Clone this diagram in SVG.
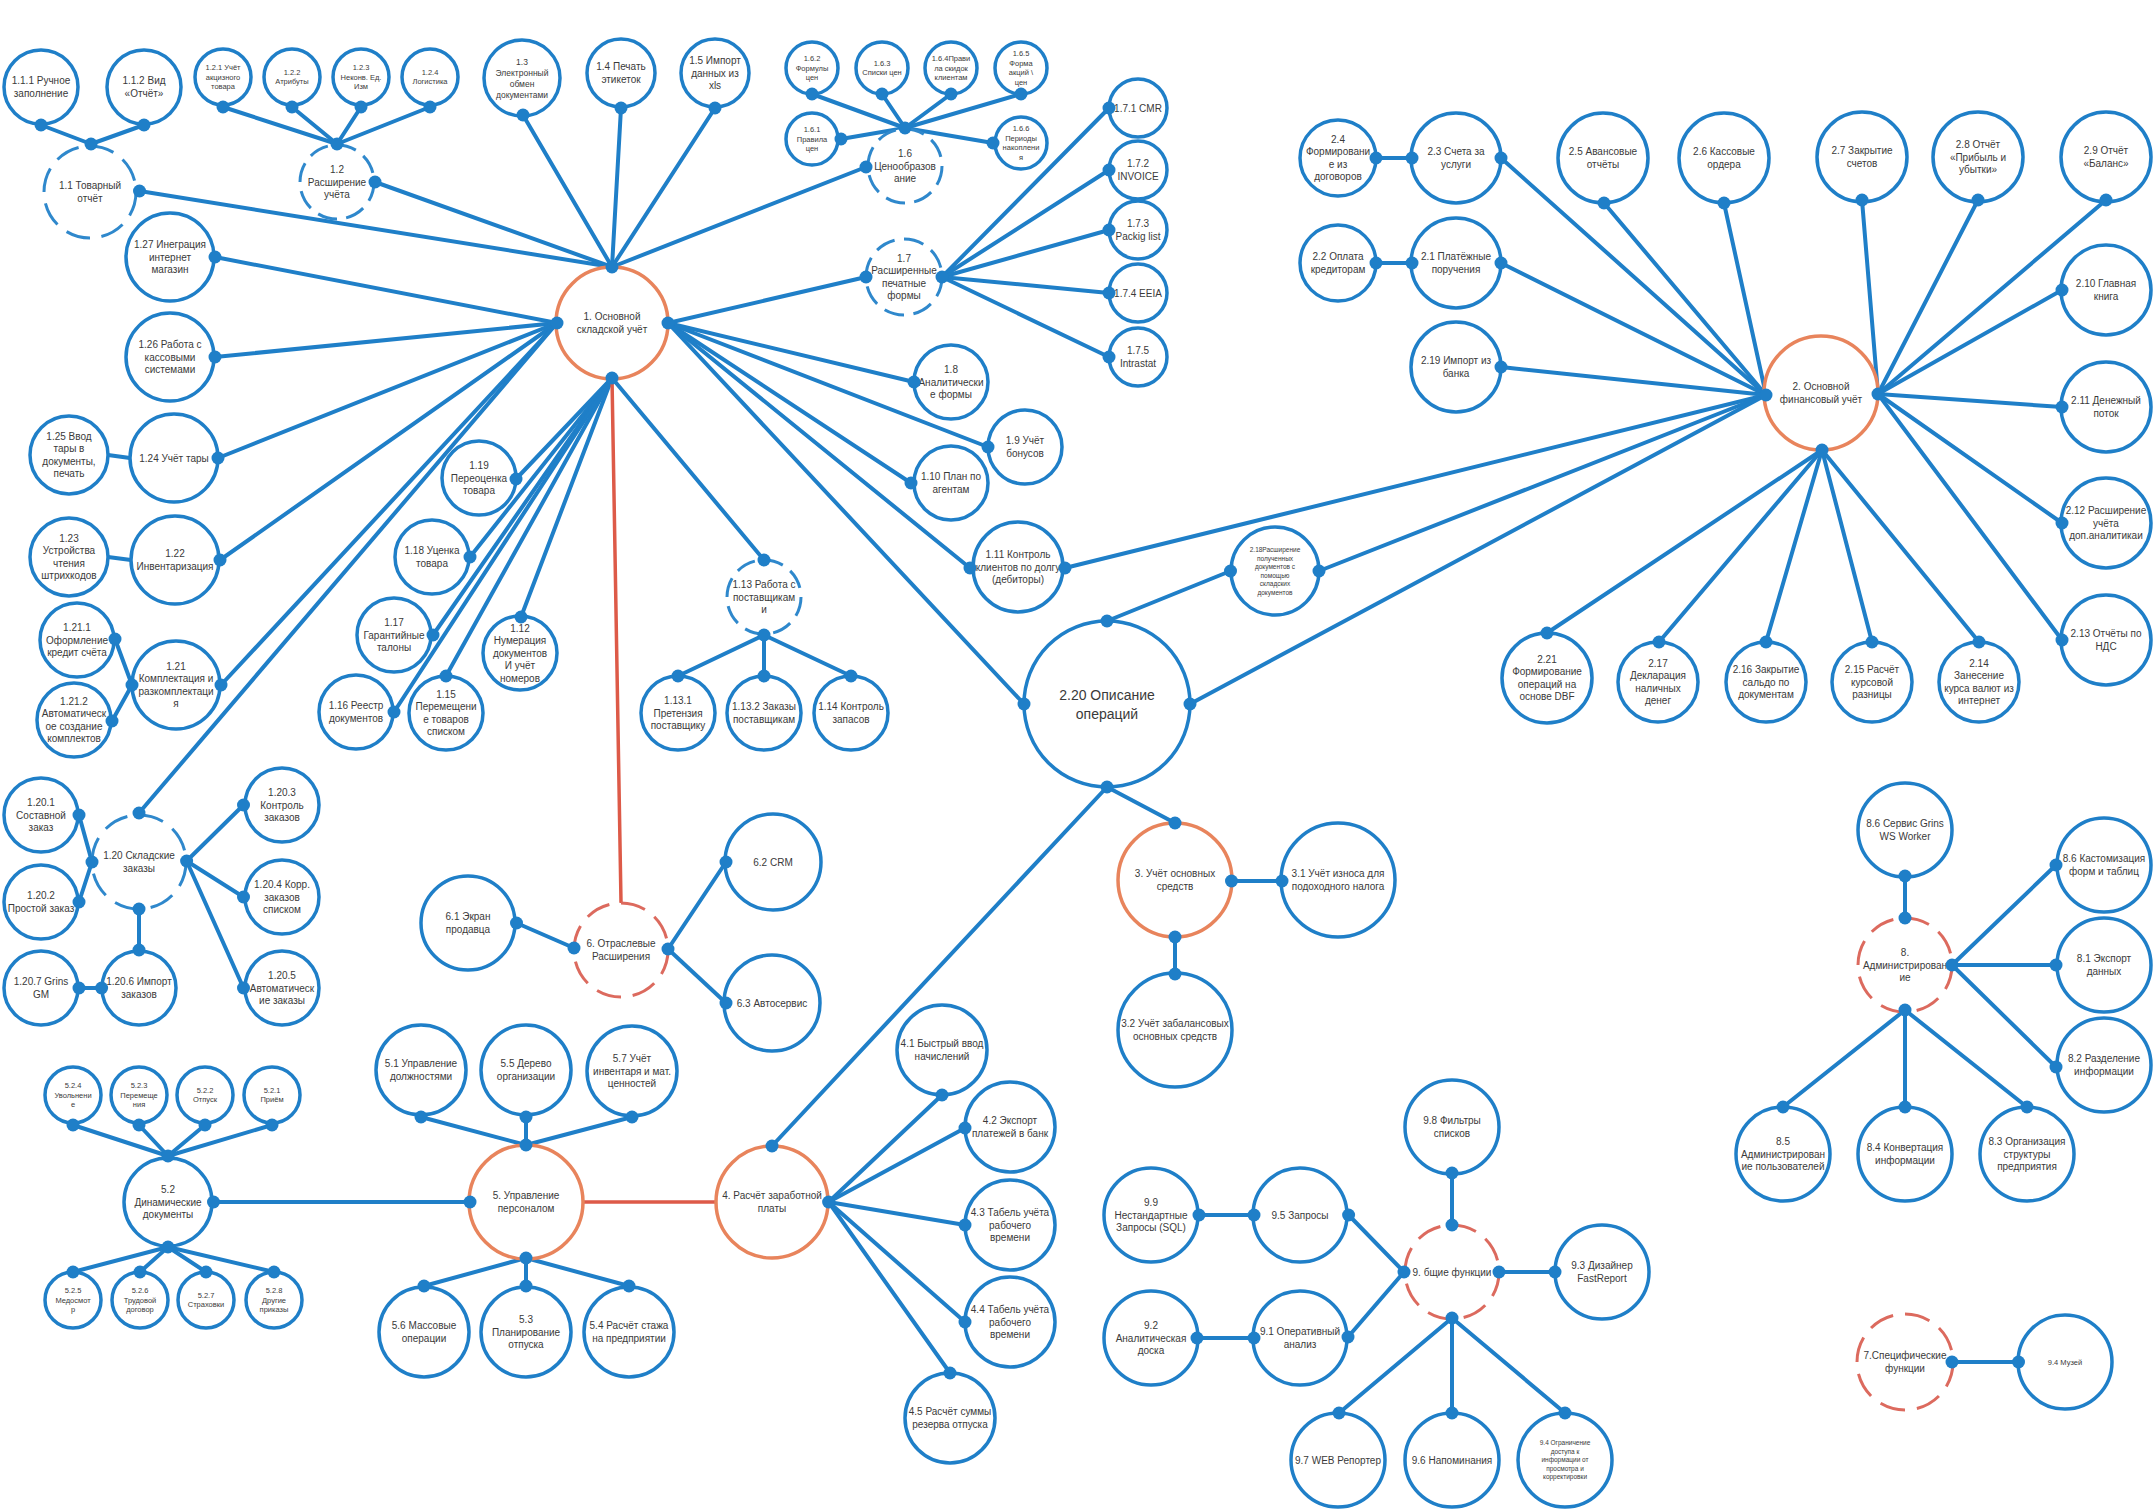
<svg xmlns="http://www.w3.org/2000/svg" width="2154" height="1510" viewBox="0 0 2154 1510">
<style>
.c{fill:#fff;stroke:#1f7fc8;stroke-width:3.5}
.cd{fill:#fff;stroke:#2f88cc;stroke-width:3;stroke-dasharray:8.5 4.0}
.o{fill:#fff;stroke:#e8845c;stroke-width:3.5}
.rd{fill:#fff;stroke:#dc6a5e;stroke-width:3;stroke-dasharray:8.5 4.0}
#connectors line{stroke:#1f7fc8;stroke-width:4;stroke-linecap:round}
#connectors line.r{stroke:#dd5a48;stroke-width:3.5}
#dots circle{fill:#1f7fc8}
text{font-family:"Liberation Sans",Arial,sans-serif;fill:#3a3a3a;text-anchor:middle}
.t{font-size:10px}.s{font-size:7.5px}.m{font-size:8.5px}.xs{font-size:6.5px}.b{font-size:14px}
</style>
<rect width="2154" height="1510" fill="#fff"/>
<g id="connectors">
<line x1="612" y1="267" x2="139.5" y2="191"/><line x1="612" y1="267" x2="375" y2="182"/><line x1="612" y1="267" x2="523" y2="115"/><line x1="612" y1="267" x2="621" y2="108"/><line x1="612" y1="267" x2="715" y2="108"/><line x1="612" y1="267" x2="866" y2="167"/>
<line x1="557" y1="323" x2="215" y2="257"/><line x1="557" y1="323" x2="215" y2="357"/><line x1="557" y1="323" x2="218" y2="458"/><line x1="557" y1="323" x2="220" y2="560"/><line x1="557" y1="323" x2="221" y2="685"/><line x1="557" y1="323" x2="139" y2="813"/>
<line x1="612" y1="378" x2="516" y2="479"/><line x1="612" y1="378" x2="470" y2="557"/><line x1="612" y1="378" x2="433" y2="635"/><line x1="612" y1="378" x2="394" y2="712"/><line x1="612" y1="378" x2="446" y2="676"/><line x1="612" y1="378" x2="521" y2="617"/><line x1="612" y1="378" x2="764" y2="560"/>
<line x1="668" y1="323" x2="866" y2="277"/><line x1="668" y1="323" x2="914" y2="382"/><line x1="668" y1="323" x2="988" y2="447"/><line x1="668" y1="323" x2="911" y2="483"/><line x1="668" y1="323" x2="970" y2="568"/><line x1="668" y1="323" x2="1024" y2="704"/>
<line x1="91" y1="144" x2="41" y2="125"/><line x1="91" y1="144" x2="144" y2="125"/>
<line x1="337" y1="144" x2="223" y2="107"/><line x1="337" y1="144" x2="292" y2="107"/><line x1="337" y1="144" x2="361" y2="107"/><line x1="337" y1="144" x2="430" y2="107"/>
<line x1="905" y1="128" x2="812" y2="94"/><line x1="905" y1="128" x2="882" y2="94"/><line x1="905" y1="128" x2="951" y2="94"/><line x1="905" y1="128" x2="1021" y2="94"/><line x1="905" y1="128" x2="841" y2="139"/><line x1="905" y1="128" x2="993" y2="143"/>
<line x1="942" y1="277" x2="1109" y2="108"/><line x1="942" y1="277" x2="1109" y2="170"/><line x1="942" y1="277" x2="1109" y2="230"/><line x1="942" y1="277" x2="1109" y2="293"/><line x1="942" y1="277" x2="1109" y2="357"/>
<line x1="108" y1="455" x2="130" y2="458"/><line x1="108" y1="557" x2="131" y2="560"/>
<line x1="132" y1="685" x2="115" y2="639"/><line x1="132" y1="685" x2="112" y2="721"/>
<line x1="92" y1="862" x2="79" y2="815"/><line x1="92" y1="862" x2="79" y2="902"/>
<line x1="186.6" y1="861" x2="243.5" y2="805"/><line x1="186.6" y1="861" x2="243.5" y2="897"/><line x1="186.6" y1="861" x2="243.5" y2="988"/>
<line x1="139" y1="909" x2="139" y2="950"/><line x1="101.6" y1="988" x2="79" y2="988"/>
<line x1="764" y1="635" x2="678" y2="676"/><line x1="764" y1="635" x2="764" y2="676"/><line x1="764" y1="635" x2="851" y2="676"/>
<line x1="516.5" y1="923" x2="574" y2="948"/>
<line x1="668" y1="949" x2="726" y2="862"/><line x1="668" y1="949" x2="726" y2="1003"/>
<line class="r" x1="612" y1="378" x2="621" y2="902"/>
<line class="r" x1="583" y1="1202" x2="716" y2="1202"/>
<line x1="1065" y1="568" x2="1766" y2="395"/><line x1="1107" y1="621" x2="1230.5" y2="571"/><line x1="1319" y1="571" x2="1766" y2="395"/><line x1="1190" y1="704" x2="1766" y2="395"/>
<line x1="1766" y1="395" x2="1501" y2="158"/><line x1="1766" y1="395" x2="1501" y2="263"/><line x1="1766" y1="395" x2="1501" y2="367"/><line x1="1766" y1="395" x2="1604" y2="203"/><line x1="1766" y1="395" x2="1724" y2="203"/>
<line x1="1376" y1="158" x2="1412" y2="158"/><line x1="1376" y1="263" x2="1412" y2="263"/>
<line x1="1878" y1="394" x2="1862" y2="200"/><line x1="1878" y1="394" x2="1978" y2="200"/><line x1="1878" y1="394" x2="2106" y2="200"/><line x1="1878" y1="394" x2="2062" y2="290"/><line x1="1878" y1="394" x2="2062" y2="407"/><line x1="1878" y1="394" x2="2062" y2="523"/><line x1="1878" y1="394" x2="2062" y2="640"/>
<line x1="1822" y1="450" x2="1547" y2="633"/><line x1="1822" y1="450" x2="1659" y2="642"/><line x1="1822" y1="450" x2="1766" y2="642"/><line x1="1822" y1="450" x2="1872" y2="642"/><line x1="1822" y1="450" x2="1979" y2="642"/>
<line x1="1107" y1="787" x2="1175" y2="823"/><line x1="1107" y1="787" x2="772" y2="1146"/>
<line x1="1231.5" y1="881" x2="1282" y2="881"/><line x1="1175" y1="937" x2="1175" y2="974"/>
<line x1="470" y1="1202" x2="213.5" y2="1202"/>
<line x1="526" y1="1145" x2="421" y2="1117"/><line x1="526" y1="1145" x2="526" y2="1117"/><line x1="526" y1="1145" x2="632" y2="1117"/>
<line x1="526" y1="1258" x2="424" y2="1286"/><line x1="526" y1="1258" x2="526" y2="1286"/><line x1="526" y1="1258" x2="629" y2="1286"/>
<line x1="168" y1="1156" x2="73" y2="1125"/><line x1="168" y1="1156" x2="139" y2="1125"/><line x1="168" y1="1156" x2="205" y2="1125"/><line x1="168" y1="1156" x2="272" y2="1125"/>
<line x1="168" y1="1247" x2="73" y2="1272"/><line x1="168" y1="1247" x2="140" y2="1272"/><line x1="168" y1="1247" x2="206" y2="1272"/><line x1="168" y1="1247" x2="274" y2="1272"/>
<line x1="828.6" y1="1202" x2="942" y2="1095"/><line x1="828.6" y1="1202" x2="965" y2="1128"/><line x1="828.6" y1="1202" x2="965" y2="1225"/><line x1="828.6" y1="1202" x2="965" y2="1322"/><line x1="828.6" y1="1202" x2="950" y2="1373"/>
<line x1="1452" y1="1225" x2="1452" y2="1173"/>
<line x1="1404" y1="1272" x2="1348.6" y2="1215"/><line x1="1404" y1="1272" x2="1348" y2="1337"/>
<line x1="1254" y1="1215" x2="1199" y2="1215"/><line x1="1254" y1="1338" x2="1197" y2="1338"/>
<line x1="1499" y1="1272" x2="1555" y2="1272"/>
<line x1="1452" y1="1318" x2="1339" y2="1413"/><line x1="1452" y1="1318" x2="1452" y2="1413"/><line x1="1452" y1="1318" x2="1565" y2="1413"/>
<line x1="1905" y1="918" x2="1905" y2="876"/>
<line x1="1952" y1="965" x2="2056" y2="865"/><line x1="1952" y1="965" x2="2056" y2="965"/><line x1="1952" y1="965" x2="2056" y2="1067"/>
<line x1="1905" y1="1010" x2="1783" y2="1107"/><line x1="1905" y1="1010" x2="1905" y2="1107"/><line x1="1905" y1="1010" x2="2027" y2="1107"/>
<line x1="1952" y1="1362" x2="2018.5" y2="1362"/>
</g>
<g id="nodes">
<g id="n1_1_1"><circle class="c" cx="41" cy="87" r="37"/><text class="t" y="84.25"><tspan x="41">1.1.1 Ручное</tspan><tspan x="41" dy="12.5">заполнение</tspan></text></g>
<g id="n1_1_2"><circle class="c" cx="144" cy="87" r="37"/><text class="t" y="84.25"><tspan x="144">1.1.2 Вид</tspan><tspan x="144" dy="12.5">«Отчёт»</tspan></text></g>
<g id="n1_1"><circle class="cd" pathLength="100" cx="90" cy="192" r="46"/><text class="t" y="189.25"><tspan x="90">1.1 Товарный</tspan><tspan x="90" dy="12.5">отчёт</tspan></text></g>
<g id="n1_2_1"><circle class="c" cx="223" cy="77" r="28"/><text class="s" y="70.1"><tspan x="223">1.2.1 Учёт</tspan><tspan x="223" dy="9.5">акцизного</tspan><tspan x="223" dy="9.5">товара</tspan></text></g>
<g id="n1_2_2"><circle class="c" cx="292" cy="77" r="28"/><text class="s" y="74.85"><tspan x="292">1.2.2</tspan><tspan x="292" dy="9.5">Атрибуты</tspan></text></g>
<g id="n1_2_3"><circle class="c" cx="361" cy="77" r="28"/><text class="s" y="70.1"><tspan x="361">1.2.3</tspan><tspan x="361" dy="9.5">Неконв. Ед.</tspan><tspan x="361" dy="9.5">Изм</tspan></text></g>
<g id="n1_2_4"><circle class="c" cx="430" cy="77" r="28"/><text class="s" y="74.85"><tspan x="430">1.2.4</tspan><tspan x="430" dy="9.5">Логистика</tspan></text></g>
<g id="n1_2"><circle class="cd" pathLength="100" cx="337" cy="182" r="37"/><text class="t" y="173"><tspan x="337">1.2</tspan><tspan x="337" dy="12.5">Расширение</tspan><tspan x="337" dy="12.5">учёта</tspan></text></g>
<g id="n1_3"><circle class="c" cx="522" cy="78" r="38"/><text class="m" y="64.5"><tspan x="522">1.3</tspan><tspan x="522" dy="11">Электронный</tspan><tspan x="522" dy="11">обмен</tspan><tspan x="522" dy="11">документами</tspan></text></g>
<g id="n1_4"><circle class="c" cx="621" cy="73" r="34"/><text class="t" y="70.25"><tspan x="621">1.4 Печать</tspan><tspan x="621" dy="12.5">этикеток</tspan></text></g>
<g id="n1_5"><circle class="c" cx="715" cy="73" r="34"/><text class="t" y="64"><tspan x="715">1.5 Импорт</tspan><tspan x="715" dy="12.5">данных из</tspan><tspan x="715" dy="12.5">xls</tspan></text></g>
<g id="n1_6_2"><circle class="c" cx="812" cy="68" r="26"/><text class="s" y="61.1"><tspan x="812">1.6.2</tspan><tspan x="812" dy="9.5">Формулы</tspan><tspan x="812" dy="9.5">цен</tspan></text></g>
<g id="n1_6_3"><circle class="c" cx="882" cy="68" r="26"/><text class="s" y="65.85"><tspan x="882">1.6.3</tspan><tspan x="882" dy="9.5">Списки цен</tspan></text></g>
<g id="n1_6_4"><circle class="c" cx="951" cy="68" r="26"/><text class="s" y="61.1"><tspan x="951">1.6.4Прави</tspan><tspan x="951" dy="9.5">ла скидок</tspan><tspan x="951" dy="9.5">клиентам</tspan></text></g>
<g id="n1_6_5"><circle class="c" cx="1021" cy="68" r="26"/><text class="s" y="56.35"><tspan x="1021">1.6.5</tspan><tspan x="1021" dy="9.5">Форма</tspan><tspan x="1021" dy="9.5">акций \</tspan><tspan x="1021" dy="9.5">цен</tspan></text></g>
<g id="n1_6_1"><circle class="c" cx="812" cy="139" r="26"/><text class="s" y="132.1"><tspan x="812">1.6.1</tspan><tspan x="812" dy="9.5">Правила</tspan><tspan x="812" dy="9.5">цен</tspan></text></g>
<g id="n1_6_6"><circle class="c" cx="1021" cy="143" r="26"/><text class="s" y="131.35"><tspan x="1021">1.6.6</tspan><tspan x="1021" dy="9.5">Периоды</tspan><tspan x="1021" dy="9.5">накоплени</tspan><tspan x="1021" dy="9.5">я</tspan></text></g>
<g id="n1_6"><circle class="cd" pathLength="100" cx="905" cy="166" r="37"/><text class="t" y="157"><tspan x="905">1.6</tspan><tspan x="905" dy="12.5">Ценообразов</tspan><tspan x="905" dy="12.5">ание</tspan></text></g>
<g id="n1"><circle class="o" cx="612" cy="323" r="56"/><text class="t" y="320.25"><tspan x="612">1. Основной</tspan><tspan x="612" dy="12.5">складской учёт</tspan></text></g>
<g id="n1_7"><circle class="cd" pathLength="100" cx="904" cy="277" r="38"/><text class="t" y="261.75"><tspan x="904">1.7</tspan><tspan x="904" dy="12.5">Расширенные</tspan><tspan x="904" dy="12.5">печатные</tspan><tspan x="904" dy="12.5">формы</tspan></text></g>
<g id="n1_7_1"><circle class="c" cx="1138" cy="108" r="29"/><text class="t" y="111.5"><tspan x="1138">1.7.1 CMR</tspan></text></g>
<g id="n1_7_2"><circle class="c" cx="1138" cy="170" r="29"/><text class="t" y="167.25"><tspan x="1138">1.7.2</tspan><tspan x="1138" dy="12.5">INVOICE</tspan></text></g>
<g id="n1_7_3"><circle class="c" cx="1138" cy="230" r="29"/><text class="t" y="227.25"><tspan x="1138">1.7.3</tspan><tspan x="1138" dy="12.5">Packig list</tspan></text></g>
<g id="n1_7_4"><circle class="c" cx="1138" cy="293" r="29"/><text class="t" y="296.5"><tspan x="1138">1.7.4 EEIA</tspan></text></g>
<g id="n1_7_5"><circle class="c" cx="1138" cy="357" r="29"/><text class="t" y="354.25"><tspan x="1138">1.7.5</tspan><tspan x="1138" dy="12.5">Intrastat</tspan></text></g>
<g id="n1_8"><circle class="c" cx="951" cy="382" r="37"/><text class="t" y="373"><tspan x="951">1.8</tspan><tspan x="951" dy="12.5">Аналитически</tspan><tspan x="951" dy="12.5">е формы</tspan></text></g>
<g id="n1_9"><circle class="c" cx="1025" cy="447" r="37"/><text class="t" y="444.25"><tspan x="1025">1.9 Учёт</tspan><tspan x="1025" dy="12.5">бонусов</tspan></text></g>
<g id="n1_10"><circle class="c" cx="951" cy="483" r="37"/><text class="t" y="480.25"><tspan x="951">1.10 План по</tspan><tspan x="951" dy="12.5">агентам</tspan></text></g>
<g id="n1_11"><circle class="c" cx="1018" cy="567" r="45"/><text class="t" y="558"><tspan x="1018">1.11 Контроль</tspan><tspan x="1018" dy="12.5">клиентов по долгу</tspan><tspan x="1018" dy="12.5">(дебиторы)</tspan></text></g>
<g id="n1_27"><circle class="c" cx="170" cy="257" r="44"/><text class="t" y="248"><tspan x="170">1.27 Инеграция</tspan><tspan x="170" dy="12.5">интернет</tspan><tspan x="170" dy="12.5">магазин</tspan></text></g>
<g id="n1_26"><circle class="c" cx="170" cy="357" r="44"/><text class="t" y="348"><tspan x="170">1.26 Работа с</tspan><tspan x="170" dy="12.5">кассовыми</tspan><tspan x="170" dy="12.5">системами</tspan></text></g>
<g id="n1_25"><circle class="c" cx="69" cy="455" r="39"/><text class="t" y="439.75"><tspan x="69">1.25 Ввод</tspan><tspan x="69" dy="12.5">тары в</tspan><tspan x="69" dy="12.5">документы,</tspan><tspan x="69" dy="12.5">печать</tspan></text></g>
<g id="n1_24"><circle class="c" cx="174" cy="458" r="44"/><text class="t" y="461.5"><tspan x="174">1.24 Учёт тары</tspan></text></g>
<g id="n1_23"><circle class="c" cx="69" cy="557" r="39"/><text class="t" y="541.75"><tspan x="69">1.23</tspan><tspan x="69" dy="12.5">Устройства</tspan><tspan x="69" dy="12.5">чтения</tspan><tspan x="69" dy="12.5">штрихкодов</tspan></text></g>
<g id="n1_22"><circle class="c" cx="175" cy="560" r="44"/><text class="t" y="557.25"><tspan x="175">1.22</tspan><tspan x="175" dy="12.5">Инвентаризация</tspan></text></g>
<g id="n1_21_1"><circle class="c" cx="77" cy="640" r="37"/><text class="t" y="631"><tspan x="77">1.21.1</tspan><tspan x="77" dy="12.5">Оформление</tspan><tspan x="77" dy="12.5">кредит счёта</tspan></text></g>
<g id="n1_21"><circle class="c" cx="176" cy="685" r="44"/><text class="t" y="669.75"><tspan x="176">1.21</tspan><tspan x="176" dy="12.5">Комплектация и</tspan><tspan x="176" dy="12.5">разкомплектаци</tspan><tspan x="176" dy="12.5">я</tspan></text></g>
<g id="n1_21_2"><circle class="c" cx="74" cy="720" r="37"/><text class="t" y="704.75"><tspan x="74">1.21.2</tspan><tspan x="74" dy="12.5">Автоматическ</tspan><tspan x="74" dy="12.5">ое создание</tspan><tspan x="74" dy="12.5">комплектов</tspan></text></g>
<g id="n1_19"><circle class="c" cx="479" cy="478" r="37"/><text class="t" y="469"><tspan x="479">1.19</tspan><tspan x="479" dy="12.5">Переоценка</tspan><tspan x="479" dy="12.5">товара</tspan></text></g>
<g id="n1_18"><circle class="c" cx="432" cy="557" r="37"/><text class="t" y="554.25"><tspan x="432">1.18 Уценка</tspan><tspan x="432" dy="12.5">товара</tspan></text></g>
<g id="n1_17"><circle class="c" cx="394" cy="635" r="37"/><text class="t" y="626"><tspan x="394">1.17</tspan><tspan x="394" dy="12.5">Гарантийные</tspan><tspan x="394" dy="12.5">талоны</tspan></text></g>
<g id="n1_16"><circle class="c" cx="356" cy="712" r="37"/><text class="t" y="709.25"><tspan x="356">1.16 Реестр</tspan><tspan x="356" dy="12.5">документов</tspan></text></g>
<g id="n1_15"><circle class="c" cx="446" cy="713" r="37"/><text class="t" y="697.75"><tspan x="446">1.15</tspan><tspan x="446" dy="12.5">Перемещени</tspan><tspan x="446" dy="12.5">е товаров</tspan><tspan x="446" dy="12.5">списком</tspan></text></g>
<g id="n1_12"><circle class="c" cx="520" cy="653" r="37"/><text class="t" y="631.5"><tspan x="520">1.12</tspan><tspan x="520" dy="12.5">Нумерация</tspan><tspan x="520" dy="12.5">документов</tspan><tspan x="520" dy="12.5">И учёт</tspan><tspan x="520" dy="12.5">номеров</tspan></text></g>
<g id="n1_13"><circle class="cd" pathLength="100" cx="764" cy="597" r="37"/><text class="t" y="588"><tspan x="764">1.13 Работа с</tspan><tspan x="764" dy="12.5">поставщикам</tspan><tspan x="764" dy="12.5">и</tspan></text></g>
<g id="n1_13_1"><circle class="c" cx="678" cy="713" r="37"/><text class="t" y="704"><tspan x="678">1.13.1</tspan><tspan x="678" dy="12.5">Претензия</tspan><tspan x="678" dy="12.5">поставщику</tspan></text></g>
<g id="n1_13_2"><circle class="c" cx="764" cy="713" r="37"/><text class="t" y="710.25"><tspan x="764">1.13.2 Заказы</tspan><tspan x="764" dy="12.5">поставщикам</tspan></text></g>
<g id="n1_14"><circle class="c" cx="851" cy="713" r="37"/><text class="t" y="710.25"><tspan x="851">1.14 Контроль</tspan><tspan x="851" dy="12.5">запасов</tspan></text></g>
<g id="n1_20"><circle class="cd" pathLength="100" cx="139" cy="862" r="47"/><text class="t" y="859.25"><tspan x="139">1.20 Складские</tspan><tspan x="139" dy="12.5">заказы</tspan></text></g>
<g id="n1_20_1"><circle class="c" cx="41" cy="815" r="37"/><text class="t" y="806"><tspan x="41">1.20.1</tspan><tspan x="41" dy="12.5">Составной</tspan><tspan x="41" dy="12.5">заказ</tspan></text></g>
<g id="n1_20_2"><circle class="c" cx="41" cy="902" r="37"/><text class="t" y="899.25"><tspan x="41">1.20.2</tspan><tspan x="41" dy="12.5">Простой заказ</tspan></text></g>
<g id="n1_20_3"><circle class="c" cx="282" cy="805" r="37"/><text class="t" y="796"><tspan x="282">1.20.3</tspan><tspan x="282" dy="12.5">Контроль</tspan><tspan x="282" dy="12.5">заказов</tspan></text></g>
<g id="n1_20_4"><circle class="c" cx="282" cy="897" r="37"/><text class="t" y="888"><tspan x="282">1.20.4 Корр.</tspan><tspan x="282" dy="12.5">заказов</tspan><tspan x="282" dy="12.5">списком</tspan></text></g>
<g id="n1_20_5"><circle class="c" cx="282" cy="988" r="37"/><text class="t" y="979"><tspan x="282">1.20.5</tspan><tspan x="282" dy="12.5">Автоматическ</tspan><tspan x="282" dy="12.5">ие заказы</tspan></text></g>
<g id="n1_20_6"><circle class="c" cx="139" cy="988" r="37"/><text class="t" y="985.25"><tspan x="139">1.20.6 Импорт</tspan><tspan x="139" dy="12.5">заказов</tspan></text></g>
<g id="n1_20_7"><circle class="c" cx="41" cy="988" r="37"/><text class="t" y="985.25"><tspan x="41">1.20.7 Grins</tspan><tspan x="41" dy="12.5">GM</tspan></text></g>
<g id="n6_1"><circle class="c" cx="468" cy="923" r="47"/><text class="t" y="920.25"><tspan x="468">6.1 Экран</tspan><tspan x="468" dy="12.5">продавца</tspan></text></g>
<g id="n6"><circle class="rd" pathLength="100" cx="621" cy="950" r="47"/><text class="t" y="947.25"><tspan x="621">6. Отраслевые</tspan><tspan x="621" dy="12.5">Расширения</tspan></text></g>
<g id="n6_2"><circle class="c" cx="773" cy="862" r="48"/><text class="t" y="865.5"><tspan x="773">6.2 CRM</tspan></text></g>
<g id="n6_3"><circle class="c" cx="772" cy="1003" r="48"/><text class="t" y="1006.5"><tspan x="772">6.3 Автосервис</tspan></text></g>
<g id="n2_4"><circle class="c" cx="1338" cy="158" r="38"/><text class="t" y="142.75"><tspan x="1338">2.4</tspan><tspan x="1338" dy="12.5">Формировани</tspan><tspan x="1338" dy="12.5">е из</tspan><tspan x="1338" dy="12.5">договоров</tspan></text></g>
<g id="n2_3"><circle class="c" cx="1456" cy="158" r="45"/><text class="t" y="155.25"><tspan x="1456">2.3 Счета за</tspan><tspan x="1456" dy="12.5">услуги</tspan></text></g>
<g id="n2_2"><circle class="c" cx="1338" cy="263" r="38"/><text class="t" y="260.25"><tspan x="1338">2.2 Оплата</tspan><tspan x="1338" dy="12.5">кредиторам</tspan></text></g>
<g id="n2_1"><circle class="c" cx="1456" cy="263" r="45"/><text class="t" y="260.25"><tspan x="1456">2.1 Платёжные</tspan><tspan x="1456" dy="12.5">поручения</tspan></text></g>
<g id="n2_19"><circle class="c" cx="1456" cy="367" r="45"/><text class="t" y="364.25"><tspan x="1456">2.19 Импорт из</tspan><tspan x="1456" dy="12.5">банка</tspan></text></g>
<g id="n2_5"><circle class="c" cx="1603" cy="158" r="45"/><text class="t" y="155.25"><tspan x="1603">2.5 Авансовые</tspan><tspan x="1603" dy="12.5">отчёты</tspan></text></g>
<g id="n2_6"><circle class="c" cx="1724" cy="158" r="45"/><text class="t" y="155.25"><tspan x="1724">2.6 Кассовые</tspan><tspan x="1724" dy="12.5">ордера</tspan></text></g>
<g id="n2_7"><circle class="c" cx="1862" cy="157" r="45"/><text class="t" y="154.25"><tspan x="1862">2.7 Закрытие</tspan><tspan x="1862" dy="12.5">счетов</tspan></text></g>
<g id="n2_8"><circle class="c" cx="1978" cy="157" r="45"/><text class="t" y="148"><tspan x="1978">2.8 Отчёт</tspan><tspan x="1978" dy="12.5">«Прибыль и</tspan><tspan x="1978" dy="12.5">убытки»</tspan></text></g>
<g id="n2_9"><circle class="c" cx="2106" cy="157" r="45"/><text class="t" y="154.25"><tspan x="2106">2.9 Отчёт</tspan><tspan x="2106" dy="12.5">«Баланс»</tspan></text></g>
<g id="n2_10"><circle class="c" cx="2106" cy="290" r="45"/><text class="t" y="287.25"><tspan x="2106">2.10 Главная</tspan><tspan x="2106" dy="12.5">книга</tspan></text></g>
<g id="n2_11"><circle class="c" cx="2106" cy="407" r="45"/><text class="t" y="404.25"><tspan x="2106">2.11 Денежный</tspan><tspan x="2106" dy="12.5">поток</tspan></text></g>
<g id="n2"><circle class="o" cx="1821" cy="393" r="57"/><text class="t" y="390.25"><tspan x="1821">2. Основной</tspan><tspan x="1821" dy="12.5">финансовый учёт</tspan></text></g>
<g id="n2_12"><circle class="c" cx="2106" cy="523" r="45"/><text class="t" y="514"><tspan x="2106">2.12 Расширение</tspan><tspan x="2106" dy="12.5">учёта</tspan><tspan x="2106" dy="12.5">доп.аналитикаи</tspan></text></g>
<g id="n2_13"><circle class="c" cx="2106" cy="640" r="45"/><text class="t" y="637.25"><tspan x="2106">2.13 Отчёты по</tspan><tspan x="2106" dy="12.5">НДС</tspan></text></g>
<g id="n2_14"><circle class="c" cx="1979" cy="682" r="40"/><text class="t" y="666.75"><tspan x="1979">2.14</tspan><tspan x="1979" dy="12.5">Занесение</tspan><tspan x="1979" dy="12.5">курса валют из</tspan><tspan x="1979" dy="12.5">интернет</tspan></text></g>
<g id="n2_15"><circle class="c" cx="1872" cy="682" r="40"/><text class="t" y="673"><tspan x="1872">2.15 Расчёт</tspan><tspan x="1872" dy="12.5">курсовой</tspan><tspan x="1872" dy="12.5">разницы</tspan></text></g>
<g id="n2_16"><circle class="c" cx="1766" cy="682" r="40"/><text class="t" y="673"><tspan x="1766">2.16 Закрытие</tspan><tspan x="1766" dy="12.5">сальдо по</tspan><tspan x="1766" dy="12.5">документам</tspan></text></g>
<g id="n2_17"><circle class="c" cx="1658" cy="682" r="40"/><text class="t" y="666.75"><tspan x="1658">2.17</tspan><tspan x="1658" dy="12.5">Декларация</tspan><tspan x="1658" dy="12.5">наличных</tspan><tspan x="1658" dy="12.5">денег</tspan></text></g>
<g id="n2_21"><circle class="c" cx="1547" cy="678" r="45"/><text class="t" y="662.75"><tspan x="1547">2.21</tspan><tspan x="1547" dy="12.5">Формирование</tspan><tspan x="1547" dy="12.5">операций на</tspan><tspan x="1547" dy="12.5">основе DBF</tspan></text></g>
<g id="n2_18"><circle class="c" cx="1275" cy="571" r="44"/><text class="xs" y="552.05"><tspan x="1275">2.18Расширение</tspan><tspan x="1275" dy="8.5">полученных</tspan><tspan x="1275" dy="8.5">документов с</tspan><tspan x="1275" dy="8.5">помощью</tspan><tspan x="1275" dy="8.5">складских</tspan><tspan x="1275" dy="8.5">документов</tspan></text></g>
<g id="n2_20"><circle class="c" cx="1107" cy="704" r="83"/><text class="b" y="699.5"><tspan x="1107">2.20 Описание</tspan><tspan x="1107" dy="19">операций</tspan></text></g>
<g id="n3"><circle class="o" cx="1175" cy="880" r="57"/><text class="t" y="877.25"><tspan x="1175">3. Учёт основных</tspan><tspan x="1175" dy="12.5">средств</tspan></text></g>
<g id="n3_1"><circle class="c" cx="1338" cy="880" r="57"/><text class="t" y="877.25"><tspan x="1338">3.1 Учёт износа для</tspan><tspan x="1338" dy="12.5">подоходного налога</tspan></text></g>
<g id="n3_2"><circle class="c" cx="1175" cy="1030" r="57"/><text class="t" y="1027.25"><tspan x="1175">3.2 Учёт забалансовых</tspan><tspan x="1175" dy="12.5">основных средств</tspan></text></g>
<g id="n8_6a"><circle class="c" cx="1905" cy="830" r="47"/><text class="t" y="827.25"><tspan x="1905">8.6 Сервис Grins</tspan><tspan x="1905" dy="12.5">WS Worker</tspan></text></g>
<g id="n8"><circle class="rd" pathLength="100" cx="1905" cy="965" r="47"/><text class="t" y="956"><tspan x="1905">8.</tspan><tspan x="1905" dy="12.5">Администрирован</tspan><tspan x="1905" dy="12.5">ие</tspan></text></g>
<g id="n8_6b"><circle class="c" cx="2104" cy="865" r="47"/><text class="t" y="862.25"><tspan x="2104">8.6 Кастомизация</tspan><tspan x="2104" dy="12.5">форм и таблиц</tspan></text></g>
<g id="n8_1"><circle class="c" cx="2104" cy="965" r="47"/><text class="t" y="962.25"><tspan x="2104">8.1 Экспорт</tspan><tspan x="2104" dy="12.5">данных</tspan></text></g>
<g id="n8_2"><circle class="c" cx="2104" cy="1065" r="47"/><text class="t" y="1062.25"><tspan x="2104">8.2 Разделение</tspan><tspan x="2104" dy="12.5">информации</tspan></text></g>
<g id="n8_5"><circle class="c" cx="1783" cy="1154" r="47"/><text class="t" y="1145"><tspan x="1783">8.5</tspan><tspan x="1783" dy="12.5">Администрирован</tspan><tspan x="1783" dy="12.5">ие пользователей</tspan></text></g>
<g id="n8_4"><circle class="c" cx="1905" cy="1154" r="47"/><text class="t" y="1151.25"><tspan x="1905">8.4 Конвертация</tspan><tspan x="1905" dy="12.5">информации</tspan></text></g>
<g id="n8_3"><circle class="c" cx="2027" cy="1154" r="47"/><text class="t" y="1145"><tspan x="2027">8.3 Организация</tspan><tspan x="2027" dy="12.5">структуры</tspan><tspan x="2027" dy="12.5">предприятия</tspan></text></g>
<g id="n7"><circle class="rd" pathLength="100" cx="1905" cy="1362" r="48"/><text class="t" y="1359.25"><tspan x="1905">7.Специфические</tspan><tspan x="1905" dy="12.5">функции</tspan></text></g>
<g id="n9_4m"><circle class="c" cx="2065" cy="1362" r="47"/><text class="s" y="1364.6"><tspan x="2065">9.4 Музей</tspan></text></g>
<g id="n5_2_4"><circle class="c" cx="73" cy="1095" r="28"/><text class="s" y="1088.1"><tspan x="73">5.2.4</tspan><tspan x="73" dy="9.5">Увольнени</tspan><tspan x="73" dy="9.5">е</tspan></text></g>
<g id="n5_2_3"><circle class="c" cx="139" cy="1095" r="28"/><text class="s" y="1088.1"><tspan x="139">5.2.3</tspan><tspan x="139" dy="9.5">Перемеще</tspan><tspan x="139" dy="9.5">ния</tspan></text></g>
<g id="n5_2_2"><circle class="c" cx="205" cy="1095" r="28"/><text class="s" y="1092.85"><tspan x="205">5.2.2</tspan><tspan x="205" dy="9.5">Отпуск</tspan></text></g>
<g id="n5_2_1"><circle class="c" cx="272" cy="1095" r="28"/><text class="s" y="1092.85"><tspan x="272">5.2.1</tspan><tspan x="272" dy="9.5">Приём</tspan></text></g>
<g id="n5_2"><circle class="c" cx="168" cy="1202" r="44"/><text class="t" y="1193"><tspan x="168">5.2</tspan><tspan x="168" dy="12.5">Динамические</tspan><tspan x="168" dy="12.5">документы</tspan></text></g>
<g id="n5_2_5"><circle class="c" cx="73" cy="1300" r="28"/><text class="s" y="1293.1"><tspan x="73">5.2.5</tspan><tspan x="73" dy="9.5">Медосмот</tspan><tspan x="73" dy="9.5">р</tspan></text></g>
<g id="n5_2_6"><circle class="c" cx="140" cy="1300" r="28"/><text class="s" y="1293.1"><tspan x="140">5.2.6</tspan><tspan x="140" dy="9.5">Трудовой</tspan><tspan x="140" dy="9.5">договор</tspan></text></g>
<g id="n5_2_7"><circle class="c" cx="206" cy="1300" r="28"/><text class="s" y="1297.85"><tspan x="206">5.2.7</tspan><tspan x="206" dy="9.5">Страховки</tspan></text></g>
<g id="n5_2_8"><circle class="c" cx="274" cy="1300" r="28"/><text class="s" y="1293.1"><tspan x="274">5.2.8</tspan><tspan x="274" dy="9.5">Другие</tspan><tspan x="274" dy="9.5">приказы</tspan></text></g>
<g id="n5_1"><circle class="c" cx="421" cy="1070" r="45"/><text class="t" y="1067.25"><tspan x="421">5.1 Управление</tspan><tspan x="421" dy="12.5">должностями</tspan></text></g>
<g id="n5_5"><circle class="c" cx="526" cy="1070" r="45"/><text class="t" y="1067.25"><tspan x="526">5.5 Дерево</tspan><tspan x="526" dy="12.5">организации</tspan></text></g>
<g id="n5_7"><circle class="c" cx="632" cy="1071" r="45"/><text class="t" y="1062"><tspan x="632">5.7 Учёт</tspan><tspan x="632" dy="12.5">инвентаря и мат.</tspan><tspan x="632" dy="12.5">ценностей</tspan></text></g>
<g id="n5"><circle class="o" cx="526" cy="1202" r="57"/><text class="t" y="1199.25"><tspan x="526">5. Управление</tspan><tspan x="526" dy="12.5">персоналом</tspan></text></g>
<g id="n5_6"><circle class="c" cx="424" cy="1332" r="45"/><text class="t" y="1329.25"><tspan x="424">5.6 Массовые</tspan><tspan x="424" dy="12.5">операции</tspan></text></g>
<g id="n5_3"><circle class="c" cx="526" cy="1332" r="45"/><text class="t" y="1323"><tspan x="526">5.3</tspan><tspan x="526" dy="12.5">Планирование</tspan><tspan x="526" dy="12.5">отпуска</tspan></text></g>
<g id="n5_4"><circle class="c" cx="629" cy="1332" r="45"/><text class="t" y="1329.25"><tspan x="629">5.4 Расчёт стажа</tspan><tspan x="629" dy="12.5">на предприятии</tspan></text></g>
<g id="n4"><circle class="o" cx="772" cy="1202" r="56"/><text class="t" y="1199.25"><tspan x="772">4. Расчёт заработной</tspan><tspan x="772" dy="12.5">платы</tspan></text></g>
<g id="n4_1"><circle class="c" cx="942" cy="1050" r="45"/><text class="t" y="1047.25"><tspan x="942">4.1 Быстрый ввод</tspan><tspan x="942" dy="12.5">начислений</tspan></text></g>
<g id="n4_2"><circle class="c" cx="1010" cy="1127" r="45"/><text class="t" y="1124.25"><tspan x="1010">4.2 Экспорт</tspan><tspan x="1010" dy="12.5">платежей в банк</tspan></text></g>
<g id="n4_3"><circle class="c" cx="1010" cy="1225" r="45"/><text class="t" y="1216"><tspan x="1010">4.3 Табель учёта</tspan><tspan x="1010" dy="12.5">рабочего</tspan><tspan x="1010" dy="12.5">времени</tspan></text></g>
<g id="n4_4"><circle class="c" cx="1010" cy="1322" r="45"/><text class="t" y="1313"><tspan x="1010">4.4 Табель учёта</tspan><tspan x="1010" dy="12.5">рабочего</tspan><tspan x="1010" dy="12.5">времени</tspan></text></g>
<g id="n4_5"><circle class="c" cx="950" cy="1418" r="45"/><text class="t" y="1415.25"><tspan x="950">4.5 Расчёт суммы</tspan><tspan x="950" dy="12.5">резерва отпуска</tspan></text></g>
<g id="n9_8"><circle class="c" cx="1452" cy="1127" r="47"/><text class="t" y="1124.25"><tspan x="1452">9.8 Фильтры</tspan><tspan x="1452" dy="12.5">списков</tspan></text></g>
<g id="n9"><circle class="rd" pathLength="100" cx="1452" cy="1272" r="47"/><text class="t" y="1275.5"><tspan x="1452">9. бщие функции</tspan></text></g>
<g id="n9_5"><circle class="c" cx="1300" cy="1215" r="47"/><text class="t" y="1218.5"><tspan x="1300">9.5 Запросы</tspan></text></g>
<g id="n9_9"><circle class="c" cx="1151" cy="1215" r="47"/><text class="t" y="1206"><tspan x="1151">9.9</tspan><tspan x="1151" dy="12.5">Нестандартные</tspan><tspan x="1151" dy="12.5">Запросы (SQL)</tspan></text></g>
<g id="n9_1"><circle class="c" cx="1300" cy="1338" r="47"/><text class="t" y="1335.25"><tspan x="1300">9.1 Оперативный</tspan><tspan x="1300" dy="12.5">анализ</tspan></text></g>
<g id="n9_2"><circle class="c" cx="1151" cy="1338" r="47"/><text class="t" y="1329"><tspan x="1151">9.2</tspan><tspan x="1151" dy="12.5">Аналитическая</tspan><tspan x="1151" dy="12.5">доска</tspan></text></g>
<g id="n9_3"><circle class="c" cx="1602" cy="1272" r="47"/><text class="t" y="1269.25"><tspan x="1602">9.3 Дизайнер</tspan><tspan x="1602" dy="12.5">FastReport</tspan></text></g>
<g id="n9_7"><circle class="c" cx="1338" cy="1460" r="47"/><text class="t" y="1463.5"><tspan x="1338">9.7 WEB Репортер</tspan></text></g>
<g id="n9_6"><circle class="c" cx="1452" cy="1460" r="47"/><text class="t" y="1463.5"><tspan x="1452">9.6 Напоминания</tspan></text></g>
<g id="n9_4"><circle class="c" cx="1565" cy="1460" r="47"/><text class="xs" y="1445.3"><tspan x="1565">9.4 Ограничение</tspan><tspan x="1565" dy="8.5">доступа к</tspan><tspan x="1565" dy="8.5">информации от</tspan><tspan x="1565" dy="8.5">просмотра и</tspan><tspan x="1565" dy="8.5">корректировки</tspan></text></g>
</g>
<g id="dots">
<circle cx="41" cy="125" r="6.5"/><circle cx="144" cy="125" r="6.5"/><circle cx="91" cy="144" r="6.5"/><circle cx="139.5" cy="191" r="6.5"/>
<circle cx="223" cy="107" r="6.5"/><circle cx="292" cy="107" r="6.5"/><circle cx="361" cy="107" r="6.5"/><circle cx="430" cy="107" r="6.5"/><circle cx="337" cy="144" r="6.5"/><circle cx="375" cy="182" r="6.5"/>
<circle cx="523" cy="115" r="6.5"/><circle cx="621" cy="108" r="6.5"/><circle cx="715" cy="108" r="6.5"/>
<circle cx="812" cy="94" r="6.5"/><circle cx="882" cy="94" r="6.5"/><circle cx="951" cy="94" r="6.5"/><circle cx="1021" cy="94" r="6.5"/><circle cx="841" cy="139" r="6.5"/><circle cx="993" cy="143" r="6.5"/><circle cx="905" cy="128" r="6.5"/><circle cx="866" cy="167" r="6.5"/>
<circle cx="612" cy="267" r="6.5"/><circle cx="557" cy="323" r="6.5"/><circle cx="668" cy="323" r="6.5"/><circle cx="612" cy="378" r="6.5"/>
<circle cx="866" cy="277" r="6.5"/><circle cx="942" cy="277" r="6.5"/><circle cx="1109" cy="108" r="6.5"/><circle cx="1109" cy="170" r="6.5"/><circle cx="1109" cy="230" r="6.5"/><circle cx="1109" cy="293" r="6.5"/><circle cx="1109" cy="357" r="6.5"/>
<circle cx="914" cy="382" r="6.5"/><circle cx="988" cy="447" r="6.5"/><circle cx="911" cy="483" r="6.5"/><circle cx="970" cy="568" r="6.5"/><circle cx="1065" cy="568" r="6.5"/>
<circle cx="215" cy="257" r="6.5"/><circle cx="215" cy="357" r="6.5"/><circle cx="218" cy="458" r="6.5"/><circle cx="220" cy="560" r="6.5"/><circle cx="221" cy="685" r="6.5"/><circle cx="132" cy="685" r="6.5"/><circle cx="115" cy="639" r="6.5"/><circle cx="112" cy="721" r="6.5"/>
<circle cx="516" cy="479" r="6.5"/><circle cx="470" cy="557" r="6.5"/><circle cx="433" cy="635" r="6.5"/><circle cx="394" cy="712" r="6.5"/><circle cx="446" cy="676" r="6.5"/><circle cx="521" cy="617" r="6.5"/>
<circle cx="764" cy="560" r="6.5"/><circle cx="764" cy="635" r="6.5"/><circle cx="678" cy="676" r="6.5"/><circle cx="764" cy="676" r="6.5"/><circle cx="851" cy="676" r="6.5"/>
<circle cx="139" cy="813" r="6.5"/><circle cx="92" cy="862" r="6.5"/><circle cx="186.6" cy="861" r="6.5"/><circle cx="139" cy="909" r="6.5"/><circle cx="79" cy="815" r="6.5"/><circle cx="79" cy="902" r="6.5"/><circle cx="243.5" cy="805" r="6.5"/><circle cx="243.5" cy="897" r="6.5"/><circle cx="243.5" cy="988" r="6.5"/><circle cx="139" cy="950" r="6.5"/><circle cx="101.6" cy="988" r="6.5"/><circle cx="79" cy="988" r="6.5"/>
<circle cx="516.5" cy="923" r="6.5"/><circle cx="574" cy="948" r="6.5"/><circle cx="668" cy="949" r="6.5"/><circle cx="726" cy="862" r="6.5"/><circle cx="726" cy="1003" r="6.5"/>
<circle cx="1376" cy="158" r="6.5"/><circle cx="1412" cy="158" r="6.5"/><circle cx="1501" cy="158" r="6.5"/><circle cx="1376" cy="263" r="6.5"/><circle cx="1412" cy="263" r="6.5"/><circle cx="1501" cy="263" r="6.5"/><circle cx="1501" cy="367" r="6.5"/><circle cx="1604" cy="203" r="6.5"/><circle cx="1724" cy="203" r="6.5"/>
<circle cx="1862" cy="200" r="6.5"/><circle cx="1978" cy="200" r="6.5"/><circle cx="2106" cy="200" r="6.5"/><circle cx="2062" cy="290" r="6.5"/><circle cx="2062" cy="407" r="6.5"/><circle cx="2062" cy="523" r="6.5"/><circle cx="2062" cy="640" r="6.5"/>
<circle cx="1766" cy="395" r="6.5"/><circle cx="1878" cy="394" r="6.5"/><circle cx="1822" cy="450" r="6.5"/>
<circle cx="1659" cy="642" r="6.5"/><circle cx="1766" cy="642" r="6.5"/><circle cx="1872" cy="642" r="6.5"/><circle cx="1979" cy="642" r="6.5"/><circle cx="1547" cy="633" r="6.5"/>
<circle cx="1230.5" cy="571" r="6.5"/><circle cx="1319" cy="571" r="6.5"/>
<circle cx="1024" cy="704" r="6.5"/><circle cx="1190" cy="704" r="6.5"/><circle cx="1107" cy="621" r="6.5"/><circle cx="1107" cy="787" r="6.5"/>
<circle cx="1175" cy="823" r="6.5"/><circle cx="1231.5" cy="881" r="6.5"/><circle cx="1282" cy="881" r="6.5"/><circle cx="1175" cy="937" r="6.5"/><circle cx="1175" cy="974" r="6.5"/>
<circle cx="1905" cy="876" r="6.5"/><circle cx="1905" cy="918" r="6.5"/><circle cx="1952" cy="965" r="6.5"/><circle cx="1905" cy="1010" r="6.5"/><circle cx="2056" cy="865" r="6.5"/><circle cx="2056" cy="965" r="6.5"/><circle cx="2056" cy="1067" r="6.5"/><circle cx="1783" cy="1107" r="6.5"/><circle cx="1905" cy="1107" r="6.5"/><circle cx="2027" cy="1107" r="6.5"/>
<circle cx="1952" cy="1362" r="6.5"/><circle cx="2018.5" cy="1362" r="6.5"/>
<circle cx="73" cy="1125" r="6.5"/><circle cx="139" cy="1125" r="6.5"/><circle cx="205" cy="1125" r="6.5"/><circle cx="272" cy="1125" r="6.5"/><circle cx="168" cy="1156" r="6.5"/><circle cx="213.5" cy="1202" r="6.5"/><circle cx="168" cy="1247" r="6.5"/><circle cx="73" cy="1272" r="6.5"/><circle cx="140" cy="1272" r="6.5"/><circle cx="206" cy="1272" r="6.5"/><circle cx="274" cy="1272" r="6.5"/>
<circle cx="421" cy="1117" r="6.5"/><circle cx="526" cy="1117" r="6.5"/><circle cx="632" cy="1117" r="6.5"/><circle cx="470" cy="1202" r="6.5"/><circle cx="526" cy="1145" r="6.5"/><circle cx="526" cy="1258" r="6.5"/><circle cx="424" cy="1286" r="6.5"/><circle cx="526" cy="1286" r="6.5"/><circle cx="629" cy="1286" r="6.5"/>
<circle cx="772" cy="1146" r="6.5"/><circle cx="828.6" cy="1202" r="6.5"/><circle cx="942" cy="1095" r="6.5"/><circle cx="965" cy="1128" r="6.5"/><circle cx="965" cy="1225" r="6.5"/><circle cx="965" cy="1322" r="6.5"/><circle cx="950" cy="1373" r="6.5"/>
<circle cx="1452" cy="1173" r="6.5"/><circle cx="1452" cy="1225" r="6.5"/><circle cx="1404" cy="1272" r="6.5"/><circle cx="1499" cy="1272" r="6.5"/><circle cx="1452" cy="1318" r="6.5"/><circle cx="1348.6" cy="1215" r="6.5"/><circle cx="1254" cy="1215" r="6.5"/><circle cx="1199" cy="1215" r="6.5"/><circle cx="1348" cy="1337" r="6.5"/><circle cx="1254" cy="1338" r="6.5"/><circle cx="1197" cy="1338" r="6.5"/><circle cx="1555" cy="1272" r="6.5"/><circle cx="1339" cy="1413" r="6.5"/><circle cx="1452" cy="1413" r="6.5"/><circle cx="1565" cy="1413" r="6.5"/>
</g>
</svg>
